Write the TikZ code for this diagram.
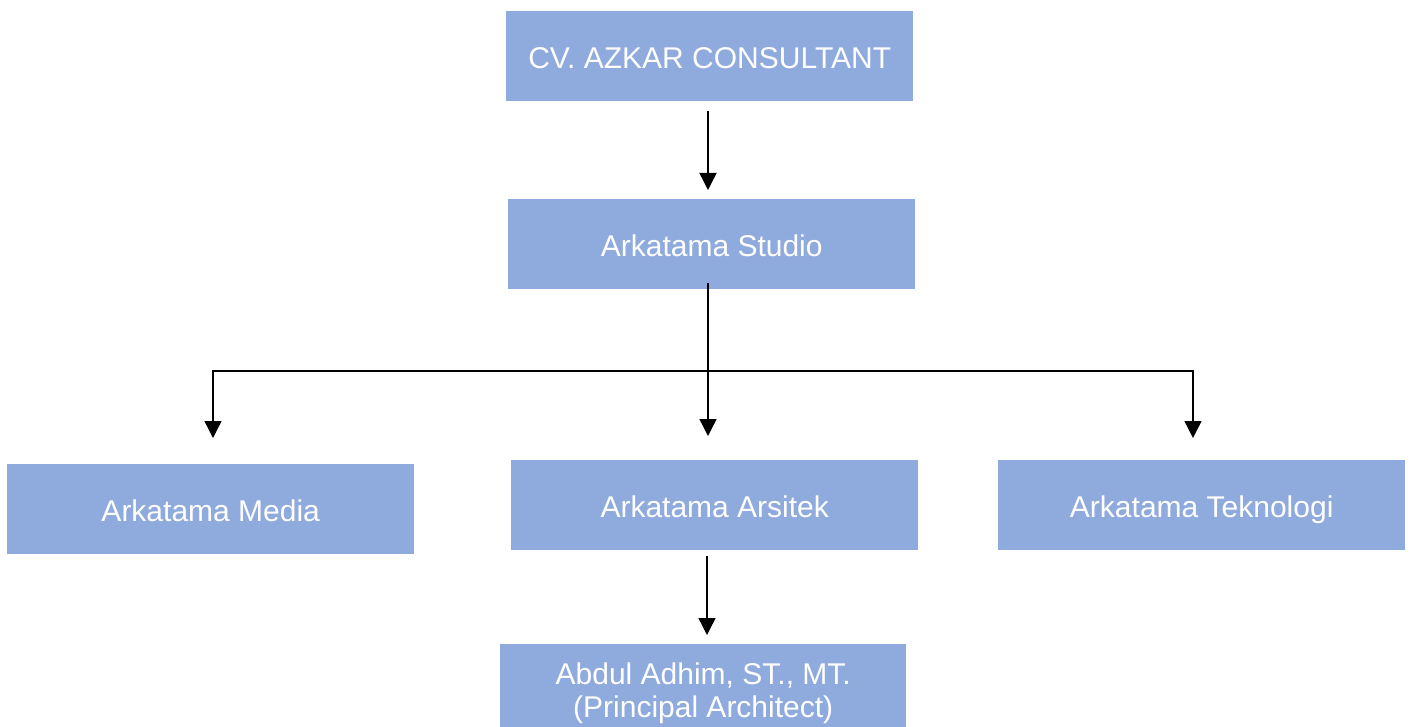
\documentclass[tikz,border=0pt]{standalone}
\usepackage{fontspec}
\setmainfont{Liberation Sans}
\usetikzlibrary{arrows.meta}
\definecolor{boxblue}{HTML}{8FAADC}
\begin{document}
\begin{tikzpicture}[x=1pt,y=-1pt,
  boxbase/.style={fill=boxblue, draw=none, minimum width=407pt, inner sep=0pt,
    text=white, font=\fontsize{30}{33}\selectfont},
  box/.style={boxbase, minimum height=90pt, text height=25.5pt, text depth=0pt, anchor=north west},
  conn/.style={line width=1.4pt, -{Triangle[width=17pt,length=17pt]}}]
\useasboundingbox (0,0) rectangle (1412,727);
\clip (0,0) rectangle (1412,727);
\node[box] (cv) at (506,11) {CV. AZKAR CONSULTANT};
\node[box] (studio) at (508,199) {Arkatama Studio};
\node[box] (media) at (7,464) {Arkatama Media};
\node[box] (arsitek) at (511,460) {Arkatama Arsitek};
\node[box] (tek) at (998,460) {Arkatama Teknologi};
\node[boxbase, minimum width=406pt, minimum height=98pt, align=center, anchor=north west] (abdul) at (500,644) {Abdul Adhim, ST., MT.\\(Principal Architect)};
\coordinate (cvb) at (708,111);
\coordinate (stt) at (708,190);
\coordinate (stb) at (708,283);
\coordinate (mid) at (708,371);
\coordinate (midend) at (708,436);
\coordinate (left) at (213,371);
\coordinate (leftend) at (213,438);
\coordinate (right) at (1193,371);
\coordinate (rightend) at (1193,438);
\coordinate (arb) at (707,556);
\coordinate (abt) at (707,635);
\draw[conn] (cvb) -- (stt);
\draw[conn] (stb) -- (midend);
\draw[conn] (mid) -- (left) -- (leftend);
\draw[conn] (mid) -- (right) -- (rightend);
\draw[conn] (arb) -- (abt);
\end{tikzpicture}
\end{document}
